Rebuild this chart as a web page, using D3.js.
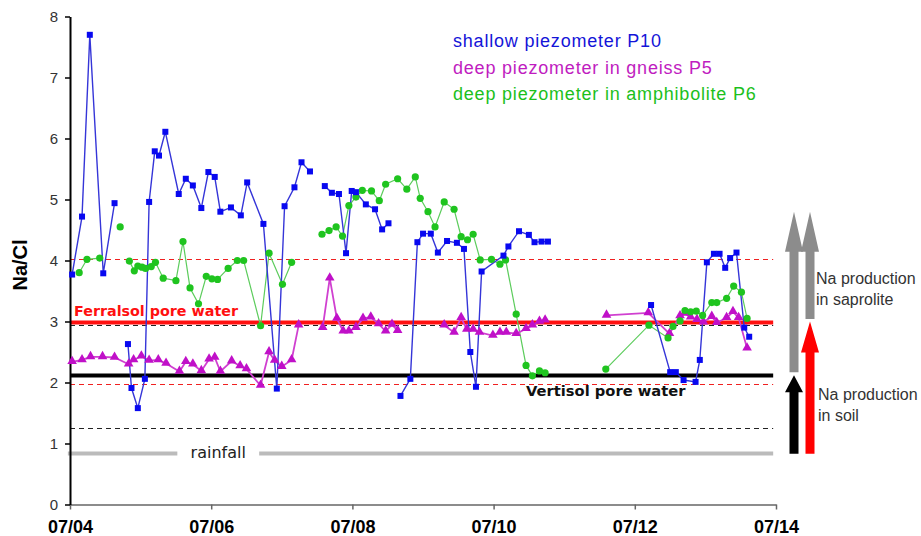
<!DOCTYPE html>
<html>
<head>
<meta charset="utf-8">
<script src="https://cdn.jsdelivr.net/npm/d3@7"></script>
<style>
  body { margin: 0; background: #fff; }
  svg { display: block; }
</style>
</head>
<body>
<div id="chart"></div>
<script>
// decimal year, Na/Cl  (null = break in the line)
var p10 = [
  [2004.53, 3.77], [2004.67, 4.72], [2004.78, 7.70], [2004.97, 3.79], [2005.13, 4.94], [2005.2, null],
  [2005.32, 2.63], [2005.37, 1.91], [2005.46, 1.58], [2005.56, 2.06], [2005.62, 4.96], [2005.70, 5.79],
  [2005.76, 5.72], [2005.85, 6.11], [2006.04, 5.09], [2006.14, 5.34], [2006.24, 5.23], [2006.36, 4.86],
  [2006.46, 5.45], [2006.55, 5.37], [2006.63, 4.80], [2006.78, 4.87], [2006.92, 4.74], [2007.01, 5.28],
  [2007.24, 4.60], [2007.43, 1.90], [2007.54, 4.89], [2007.68, 5.20], [2007.78, 5.61], [2007.90, 5.46], [2008.0, null],
  [2008.11, 5.22], [2008.21, 5.11], [2008.31, 5.09], [2008.41, 4.12], [2008.49, 5.14], [2008.55, 5.12],
  [2008.69, 4.92], [2008.82, 4.84], [2008.92, 4.51], [2009.01, 4.61], [2009.1, null],
  [2009.18, 1.78], [2009.32, 2.06], [2009.42, 4.30], [2009.50, 4.44], [2009.61, 4.44], [2009.71, 4.13],
  [2009.84, 4.32], [2009.98, 4.29], [2010.08, 4.19], [2010.17, 2.50], [2010.25, 1.93], [2010.33, 3.82],
  [2010.64, 4.08], [2010.71, 4.23], [2010.86, 4.48], [2011.00, 4.42], [2011.08, 4.30], [2011.18, 4.31],
  [2011.27, 4.31], [2012.0, null],
  [2012.73, 3.27], [2013.00, 2.17], [2013.08, 2.17], [2013.19, 2.04], [2013.36, 2.01], [2013.42, 2.37],
  [2013.52, 3.97], [2013.62, 4.11], [2013.70, 4.11], [2013.78, 3.88], [2013.85, 4.04], [2013.94, 4.13],
  [2014.05, 2.90], [2014.12, 2.75]
];

var p5 = [
  [2004.53, 2.34], [2004.67, 2.37], [2004.79, 2.42], [2004.96, 2.42], [2005.13, 2.41], [2005.33, 2.30],
  [2005.40, 2.37], [2005.51, 2.43], [2005.62, 2.36], [2005.75, 2.37], [2005.86, 2.31], [2006.05, 2.18],
  [2006.14, 2.34], [2006.24, 2.30], [2006.36, 2.19], [2006.47, 2.38], [2006.55, 2.41], [2006.63, 2.18],
  [2006.79, 2.35], [2006.91, 2.27], [2007.00, 2.22], [2007.20, 1.95], [2007.32, 2.50], [2007.40, 2.36],
  [2007.50, 2.26], [2007.64, 2.37], [2007.74, 2.94], [2007.9, null],
  [2008.08, 2.90], [2008.18, 3.71], [2008.28, 3.05], [2008.37, 2.84], [2008.45, 2.84], [2008.55, 2.90],
  [2008.65, 3.05], [2008.76, 3.07], [2008.87, 2.96], [2008.97, 2.84], [2009.06, 2.95], [2009.14, 2.85], [2009.5, null],
  [2009.80, 2.94], [2009.94, 2.82], [2010.04, 3.06], [2010.12, 2.87], [2010.21, 2.87], [2010.30, 2.82],
  [2010.49, 2.77], [2010.59, 2.82], [2010.68, 2.82], [2010.82, 2.80], [2010.96, 2.88], [2011.05, 2.94],
  [2011.15, 3.00], [2011.23, 3.02], [2011.6, null],
  [2012.10, 3.10], [2012.69, 3.14], [2012.99, 2.80], [2013.14, 3.09], [2013.21, 3.13], [2013.29, 3.07],
  [2013.38, 3.03], [2013.47, 2.99], [2013.59, 3.08], [2013.66, 2.98], [2013.80, 3.06], [2013.89, 3.16],
  [2013.97, 3.06], [2014.09, 2.56]
];

var p6 = [
  [2004.63, 3.80], [2004.74, 4.02], [2004.92, 4.04], [2005.0, null],
  [2005.21, 4.55], [2005.3, null],
  [2005.34, 3.99], [2005.41, 3.83], [2005.46, 3.91], [2005.52, 3.89], [2005.57, 3.87], [2005.65, 3.90],
  [2005.71, 3.97], [2005.82, 3.71], [2006.00, 3.67], [2006.10, 4.31], [2006.20, 3.55], [2006.32, 3.29],
  [2006.43, 3.74], [2006.51, 3.70], [2006.59, 3.69], [2006.74, 3.87], [2006.87, 4.00], [2006.96, 4.00],
  [2007.20, 2.93], [2007.32, 4.12], [2007.51, 3.61], [2007.64, 3.97], [2007.9, null],
  [2008.07, 4.43], [2008.17, 4.49], [2008.27, 4.55], [2008.36, 4.40], [2008.45, 4.90], [2008.55, 5.04],
  [2008.64, 5.15], [2008.77, 5.14], [2008.88, 4.98], [2008.97, 5.25], [2009.14, 5.34], [2009.27, 5.17],
  [2009.39, 5.37], [2009.46, 5.02], [2009.57, 4.80], [2009.67, 4.55], [2009.80, 4.96], [2009.94, 4.84],
  [2010.04, 4.39], [2010.13, 4.34], [2010.21, 4.43], [2010.31, 4.01], [2010.47, 4.02], [2010.59, 3.94],
  [2010.67, 4.01], [2010.82, 3.12], [2010.96, 2.28], [2011.05, 2.11], [2011.15, 2.19], [2011.23, 2.16], [2011.6, null],
  [2012.09, 2.22], [2012.70, 2.94], [2012.97, 2.73], [2013.04, 2.92], [2013.14, 3.01], [2013.21, 3.18],
  [2013.29, 3.16], [2013.37, 3.17], [2013.46, 3.10], [2013.59, 3.31], [2013.66, 3.31], [2013.80, 3.38],
  [2013.90, 3.58], [2014.01, 3.48], [2014.09, 3.05]
];

var seriesNames = ["shallow piezometer P10", "deep piezometer in gneiss P5", "deep piezometer in amphibolite P6"];
var tickYears = [2004.5, 2006.5, 2008.5, 2010.5, 2012.5, 2014.5];
var yTicks = [0, 1, 2, 3, 4, 5, 6, 7, 8];

// reference levels
var ferralsol = 3.0, vertisol = 2.12, rainfall = 0.84;
var redDashed = [4.02, 1.98];
var blackDashed = [2.95, 1.26];
var refEnd = 2014.46;
var rainGap = [2006.02, 2007.18];
var arrowTop = 4.80;

function toDate(y) {
  var yr = Math.floor(y);
  var a = new Date(yr, 0, 1), b = new Date(yr + 1, 0, 1);
  return new Date(+a + (y - yr) * (b - a));
}

var width = 921, height = 536;
var svg = d3.select("#chart").append("svg")
  .attr("width", width).attr("height", height);

var x = d3.scaleTime()
  .domain([toDate(2004.5), toDate(2014.5)])
  .range([70, 776]);
var y = d3.scaleLinear()
  .domain([0, 8])
  .range([504.5, 16.5]);

var font = "Liberation Sans, Arial, sans-serif";

// reference lines
function hline(v, x0, x1, color, w, dash) {
  svg.append("line")
    .attr("x1", x(toDate(x0))).attr("x2", x(toDate(x1)))
    .attr("y1", Math.round(y(v)) + 0.5).attr("y2", Math.round(y(v)) + 0.5)
    .attr("stroke", color).attr("stroke-width", w)
    .attr("stroke-dasharray", dash || null);
}
redDashed.forEach(function(v) { hline(v, 2004.5, refEnd, "#f02020", 1, "5,4"); });
blackDashed.forEach(function(v) { hline(v, 2004.5, refEnd, "#222", 1, "5,4"); });
hline(ferralsol, 2004.5, refEnd, "#ff1010", 4);
hline(vertisol, 2004.5, refEnd, "#000", 4);
hline(rainfall, 2004.47, rainGap[0], "#bbb", 4);
hline(rainfall, rainGap[1], refEnd, "#bbb", 4);

svg.append("text")
  .attr("x", x(toDate((rainGap[0] + rainGap[1]) / 2)))
  .attr("y", y(rainfall) + 5)
  .attr("text-anchor", "middle")
  .style("font-family", "DejaVu Sans, sans-serif")
  .style("font-size", "16px")
  .style("fill", "#222")
  .text("rainfall");

svg.append("text")
  .attr("x", 74).attr("y", y(ferralsol) - 6)
  .style("font-family", "DejaVu Sans, sans-serif")
  .style("font-weight", "bold")
  .style("font-size", "14.3px")
  .style("fill", "#ff1010")
  .text("Ferralsol pore water");

svg.append("text")
  .attr("x", 526).attr("y", y(vertisol) + 21)
  .style("font-family", "DejaVu Sans, sans-serif")
  .style("font-weight", "bold")
  .style("font-size", "14.7px")
  .style("fill", "#111")
  .text("Vertisol pore water");

// axes
var gx = svg.append("g")
  .attr("transform", "translate(0," + y(0) + ")")
  .call(d3.axisBottom(x).tickValues(tickYears.map(toDate)).tickFormat(d3.timeFormat("%m/%y")).tickSize(5).tickSizeOuter(0));
gx.select(".domain").attr("stroke", "#666").attr("stroke-width", 1.5);
gx.selectAll(".tick line").attr("stroke", "#666").attr("stroke-width", 1.5);
gx.selectAll(".tick text")
  .attr("dy", "0").attr("y", 28)
  .style("font-family", font).style("font-weight", "bold").style("font-size", "18px").style("fill", "#000");

var gy = svg.append("g")
  .attr("transform", "translate(" + x(toDate(2004.5)) + ",0)")
  .call(d3.axisLeft(y).tickValues(yTicks).tickSize(5).tickPadding(7).tickSizeOuter(0));
gy.select(".domain").attr("stroke", "#000").attr("stroke-width", 2);
gy.selectAll(".tick line").attr("stroke", "#000").attr("stroke-width", 1.5);
gy.selectAll(".tick text")
  .style("font-family", font).style("font-size", "15px").style("fill", "#333");

svg.append("text")
  .attr("transform", "translate(27,265) rotate(-90)")
  .attr("text-anchor", "middle")
  .style("font-family", font).style("font-weight", "bold").style("font-size", "20px")
  .text("Na/Cl");

// series
var line = d3.line()
  .defined(function(d) { return d[1] !== null; })
  .x(function(d) { return x(toDate(d[0])); })
  .y(function(d) { return y(d[1]); });

function pts(data) { return data.filter(function(d) { return d[1] !== null; }); }

svg.append("path").datum(p6).attr("d", line)
  .attr("fill", "none").attr("stroke", "#5ccc5c").attr("stroke-width", 1.2);
svg.append("path").datum(p5).attr("d", line)
  .attr("fill", "none").attr("stroke", "#d040d0").attr("stroke-width", 1.8);
svg.append("path").datum(p10).attr("d", line)
  .attr("fill", "none").attr("stroke", "#3535d8").attr("stroke-width", 1.4);

svg.append("g").selectAll("path").data(pts(p5)).enter().append("path")
  .attr("d", d3.symbol().type(d3.symbolTriangle).size(40))
  .attr("transform", function(d) { return "translate(" + x(toDate(d[0])) + "," + (y(d[1]) - 0.5) + ")"; })
  .attr("fill", "#c010c8");
svg.append("g").selectAll("circle").data(pts(p6)).enter().append("circle")
  .attr("cx", function(d) { return x(toDate(d[0])); })
  .attr("cy", function(d) { return y(d[1]); })
  .attr("r", 3.6)
  .attr("fill", "#1fc41f");
svg.append("g").selectAll("rect").data(pts(p10)).enter().append("rect")
  .attr("x", function(d) { return x(toDate(d[0])) - 3; })
  .attr("y", function(d) { return y(d[1]) - 3; })
  .attr("width", 6).attr("height", 6)
  .attr("fill", "#0808f0");

// legend
var legendColors = ["#1414d8", "#c01cc0", "#1cc01c"];
svg.append("g").selectAll("text").data(seriesNames).enter().append("text")
  .attr("x", 453)
  .attr("y", function(d, i) { return 47 + i * 26.7; })
  .style("font-family", font).style("font-size", "18px").style("letter-spacing", "0.8px")
  .style("fill", function(d, i) { return legendColors[i]; })
  .text(function(d) { return d; });

// arrows on the right
var xr = x(toDate(2014.5));
function arrow(cx, v0, v1, color, head) {
  var yb = y(v0), yt = y(v1), sw = 4.5, hw = 9;
  var p = [[cx - sw, yb], [cx - sw, yt + head], [cx - hw, yt + head], [cx, yt],
           [cx + hw, yt + head], [cx + sw, yt + head], [cx + sw, yb]];
  svg.append("path").attr("d", d3.line()(p) + "Z").attr("fill", color);
}
arrow(xr + 18, vertisol + 0.05, arrowTop, "#8c8c8c", 40);
arrow(xr + 34, ferralsol + 0.04, arrowTop, "#8c8c8c", 40);
arrow(xr + 18, rainfall - 0.01, vertisol, "#000", 17);
arrow(xr + 34, rainfall - 0.01, ferralsol, "#ff0000", 31);

var notes = [["Na production", "in saprolite"], ["Na production", "in soil"]];
var noteY = [284, 400];
notes.forEach(function(n, i) {
  n.forEach(function(s, j) {
    svg.append("text")
      .attr("x", 816 + i * 2).attr("y", noteY[i] + j * 20.5)
      .style("font-family", font).style("font-size", "16px").style("fill", "#333")
      .text(s);
  });
});
</script>
</body>
</html>
